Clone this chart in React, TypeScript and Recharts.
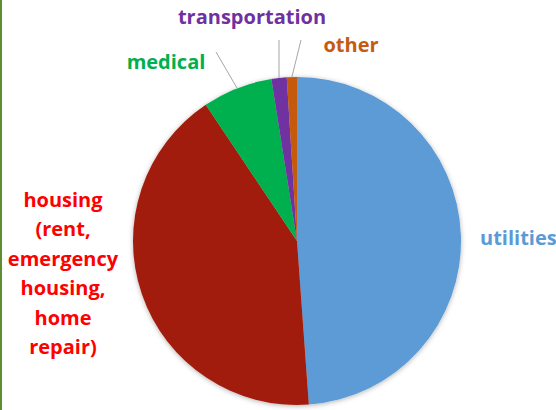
import React from 'react';
import { PieChart, Pie, Cell } from 'recharts';

// Shares of spending (percent), clockwise from 12 o'clock
const categories = ['utilities', 'housing', 'medical', 'transportation', 'other'];
const shares = [48.9, 41.8, 6.9, 1.5, 1.0];
const labelText = [
  ['utilities'],
  ['housing', '(rent,', 'emergency', 'housing,', 'home', 'repair)'],
  ['medical'],
  ['transportation'],
  ['other'],
];

const sliceColors = ['#5B9BD5', '#A21F0C', '#00B050', '#7030A0', '#C55A11'];
const labelColors = ['#5B9BD5', '#FF0000', '#00B050', '#7030A0', '#C55A11'];

const data = categories.map((name, i) => ({ name, value: shares[i] }));

// label placement relative to the pie centre
const LABEL_POS = [
  { dx: 183, dy: 4, anchor: 'start' },
  { dx: -234, dy: -34, anchor: 'middle' },
  { dx: -131, dy: -172, anchor: 'middle' },
  { dx: -45, dy: -217, anchor: 'middle' },
  { dx: 54, dy: -189, anchor: 'middle' },
];
// leader line end points, relative to centre (null = no line)
const LEADERS: ({ dx: number; dy: number } | null)[] = [
  null,
  null,
  { dx: -81, dy: -189 },
  { dx: -18, dy: -201 },
  { dx: 4, dy: -201 },
];

const RAD = Math.PI / 180;

const renderLabel = (props: any) => {
  const { cx, cy, midAngle, outerRadius, index } = props;
  const pos = LABEL_POS[index];
  const lead = LEADERS[index];
  const lines = labelText[index];
  let line = null;
  if (lead) {
    const sx = cx + outerRadius * Math.cos(-midAngle * RAD);
    const sy = cy + outerRadius * Math.sin(-midAngle * RAD);
    line = (
      <line x1={sx} y1={sy} x2={cx + lead.dx} y2={cy + lead.dy} stroke="#A6A6A6" strokeWidth={1} />
    );
  }
  return (
    <g key={`lbl-${index}`}>
      {line}
      <text
        x={cx + pos.dx}
        y={cy + pos.dy}
        textAnchor={pos.anchor}
        fill={labelColors[index]}
        fontFamily="'Open Sans', sans-serif"
        fontWeight="bold"
        fontSize={20}
      >
        {lines.map((t, j) => (
          <tspan key={j} x={cx + pos.dx} dy={j === 0 ? 0 : 29.4}>
            {t}
          </tspan>
        ))}
      </text>
    </g>
  );
};

export default function App() {
  return (
    <div style={{ position: 'absolute', left: 0, top: 0, width: 556, height: 410, background: '#fff' }}>
      <svg width={0} height={0} style={{ position: 'absolute' }}>
        <defs>
          <filter id="pieShadow" x="-20%" y="-20%" width="140%" height="140%">
            <feDropShadow dx="0" dy="1" stdDeviation="2.5" floodColor="#000" floodOpacity="0.3" />
          </filter>
        </defs>
      </svg>
      <style>{'.recharts-pie-sectors, .recharts-pie > .recharts-layer:first-child { filter: url(#pieShadow); }'}</style>
      <div style={{ position: 'absolute', left: 0, top: 0, width: 2, height: 410, background: '#5E8C31' }} />
      <PieChart width={556} height={410} margin={{ top: 0, right: 0, bottom: 0, left: 0 }}>
        <Pie
          data={data}
          dataKey="value"
          nameKey="name"
          cx={297}
          cy={241}
          outerRadius={164}
          startAngle={90}
          endAngle={-270}
          stroke="none"
          label={renderLabel}
          labelLine={false}
          isAnimationActive={false}
        >
          {data.map((entry, index) => (
            <Cell key={`cell-${index}`} fill={sliceColors[index]} />
          ))}
        </Pie>
      </PieChart>
    </div>
  );
}
